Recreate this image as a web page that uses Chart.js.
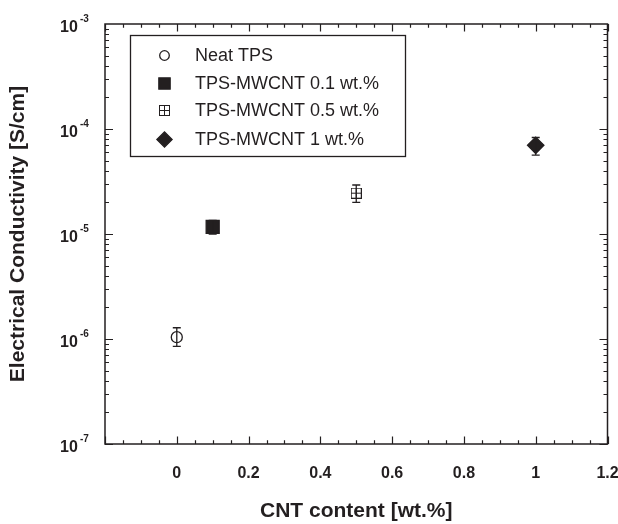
<!DOCTYPE html>
<html>
<head>
<meta charset="utf-8">
<script src="https://cdn.jsdelivr.net/npm/chart.js@4.4.1/dist/chart.umd.min.js"></script>
<style>
  html, body { margin: 0; padding: 0; background: #fff; }
</style>
</head>
<body>
<canvas id="myChart" width="618" height="524"></canvas>
<script>
// data
var seriesLabels = ['Neat TPS', 'TPS-MWCNT 0.1 wt.%', 'TPS-MWCNT 0.5 wt.%', 'TPS-MWCNT 1 wt.%'];
var cntContent = [0, 0.1, 0.5, 1];
var conductivity = [1.04e-6, 1.17e-5, 2.45e-5, 7.0e-5];
var errLow = [0.85e-6, 1.0e-5, 2.0e-5, 5.65e-5];
var errHigh = [1.28e-6, 1.35e-5, 2.93e-5, 8.3e-5];
var xTickLabels = ['0', '0.2', '0.4', '0.6', '0.8', '1', '1.2'];
var xTickValues = [0, 0.2, 0.4, 0.6, 0.8, 1, 1.2];
var yDecades = [-7, -6, -5, -4, -3];

var ink = '#231f20';

// square with a cross inside, used for the 0.5 wt.% series
function gridSquare(size) {
  var c = document.createElement('canvas');
  c.width = size; c.height = size;
  var g = c.getContext('2d');
  g.strokeStyle = ink;
  g.lineWidth = 1;
  var m = Math.floor(size / 2) + 0.5;
  g.strokeRect(0.5, 0.5, size - 1, size - 1);
  g.beginPath();
  g.moveTo(m, 0); g.lineTo(m, size);
  g.moveTo(0, m); g.lineTo(size, m);
  g.stroke();
  return c;
}

var styles = [
  { pointStyle: 'circle', radius: 5.5, fill: 'rgba(0,0,0,0)', legendRadius: 4.8 },
  { pointStyle: 'rect', radius: 9.2, fill: ink, legendRadius: 8 },
  { pointStyle: gridSquare(11), radius: 6, fill: ink, legendStyle: gridSquare(11) },
  { pointStyle: 'rectRot', radius: 8.2, fill: ink, legendRadius: 7.6 }
];

var datasets = seriesLabels.map(function (label, i) {
  return {
    label: label,
    data: [{ x: cntContent[i], y: conductivity[i] }],
    pointStyle: styles[i].pointStyle,
    pointRadius: styles[i].radius,
    pointHoverRadius: styles[i].radius,
    backgroundColor: styles[i].fill,
    borderColor: ink,
    pointBorderWidth: 1.3,
    showLine: false
  };
});

var errorBars = {
  id: 'errorBars',
  afterDatasetsDraw: function (chart) {
    var ctx = chart.ctx, xs = chart.scales.x, ys = chart.scales.y;
    ctx.save();
    ctx.strokeStyle = ink;
    ctx.lineWidth = 1.3;
    for (var i = 0; i < cntContent.length; i++) {
      var px = xs.getPixelForValue(cntContent[i]);
      var lo = ys.getPixelForValue(errLow[i]);
      var hi = ys.getPixelForValue(errHigh[i]);
      ctx.beginPath();
      ctx.moveTo(px, lo); ctx.lineTo(px, hi);
      ctx.moveTo(px - 4, lo); ctx.lineTo(px + 4, lo);
      ctx.moveTo(px - 4, hi); ctx.lineTo(px + 4, hi);
      ctx.stroke();
    }
    ctx.restore();
  }
};

// frame, inward ticks on all four sides, tick labels
var frameAndTicks = {
  id: 'frameAndTicks',
  afterDraw: function (chart) {
    var ctx = chart.ctx, a = chart.chartArea, xs = chart.scales.x, ys = chart.scales.y;
    ctx.save();
    ctx.strokeStyle = ink;
    ctx.lineWidth = 1.5;
    ctx.strokeRect(a.left, a.top, a.right - a.left, a.bottom - a.top);

    ctx.lineWidth = 1.2;
    ctx.beginPath();
    // x ticks every 0.05, major every 0.2
    for (var k = -4; k <= 28; k++) {
      var v = k * 0.05;
      var px = Math.round(xs.getPixelForValue(v)) + 0.5;
      var len = (k % 4 === 0) ? 7.5 : 3.8;
      ctx.moveTo(px, a.bottom); ctx.lineTo(px, a.bottom - len);
      ctx.moveTo(px, a.top); ctx.lineTo(px, a.top + len);
    }
    // y log ticks
    for (var d = -7; d < -3; d++) {
      for (var m = 1; m <= 9; m++) {
        var py = Math.round(ys.getPixelForValue(m * Math.pow(10, d))) + 0.5;
        var l = (m === 1) ? 8 : 4;
        ctx.moveTo(a.left, py); ctx.lineTo(a.left + l, py);
        ctx.moveTo(a.right, py); ctx.lineTo(a.right - l, py);
      }
    }
    ctx.stroke();

    ctx.fillStyle = ink;
    ctx.font = 'bold 16px "Liberation Sans", Arial, sans-serif';
    ctx.textAlign = 'center';
    ctx.textBaseline = 'alphabetic';
    xTickValues.forEach(function (v, i) {
      ctx.fillText(xTickLabels[i], xs.getPixelForValue(v), a.bottom + 34);
    });

    yDecades.forEach(function (e) {
      var py = ys.getPixelForValue(Math.pow(10, e));
      ctx.textAlign = 'left';
      ctx.font = 'bold 16px "Liberation Sans", Arial, sans-serif';
      ctx.fillText('10', 60, py + 8);
      ctx.font = 'bold 10px "Liberation Sans", Arial, sans-serif';
      ctx.fillText('-' + (-e), 80, py - 2);
    });
    ctx.restore();
  }
};

var boxLegend = {
  id: 'boxLegend',
  afterDraw: function (chart) {
    var ctx = chart.ctx;
    var rows = [55, 83, 110, 139];
    ctx.save();
    ctx.strokeStyle = ink;
    ctx.lineWidth = 1.3;
    ctx.strokeRect(130.5, 35.5, 275, 121);
    chart.data.datasets.forEach(function (ds, i) {
      ctx.fillStyle = styles[i].fill;
      ctx.strokeStyle = ink;
      ctx.lineWidth = 1.3;
      Chart.helpers.drawPoint(ctx, {
        pointStyle: styles[i].legendStyle || styles[i].pointStyle,
        radius: styles[i].legendRadius || 5,
        rotation: 0,
        borderWidth: 1.3
      }, 164.5, rows[i] + 0.5);
      ctx.fillStyle = ink;
      ctx.font = '18px "Liberation Sans", Arial, sans-serif';
      ctx.textAlign = 'left';
      ctx.textBaseline = 'middle';
      ctx.fillText(ds.label, 195, rows[i] + 1);
    });
    ctx.restore();
  }
};

var ctx = document.getElementById('myChart').getContext('2d');
var chart = new Chart(ctx, {
  type: 'scatter',
  data: { datasets: datasets },
  options: {
    responsive: false,
    animation: false,
    devicePixelRatio: 1,
    layout: { padding: { top: 24, right: 9, left: 0, bottom: 0 } },
    plugins: {
      legend: { display: false },
      tooltip: { enabled: false }
    },
    scales: {
      x: {
        type: 'linear',
        min: -0.2,
        max: 1.2,
        grid: { display: false },
        border: { display: false },
        ticks: { display: false },
        title: {
          display: true,
          text: 'CNT content [wt.%]',
          color: ink,
          font: { family: '"Liberation Sans", Arial, sans-serif', size: 21, weight: 'bold' },
          padding: { top: 0, bottom: 0 }
        },
        afterFit: function (s) { s.height = 80; }
      },
      y: {
        type: 'logarithmic',
        min: 1e-7,
        max: 1e-3,
        grid: { display: false },
        border: { display: false },
        ticks: { display: false },
        title: {
          display: true,
          text: 'Electrical Conductivity [S/cm]',
          color: ink,
          font: { family: '"Liberation Sans", Arial, sans-serif', size: 21, weight: 'bold' },
          padding: { top: 6, bottom: 0 }
        },
        afterFit: function (s) { s.width = 105; }
      }
    }
  },
  plugins: [errorBars, frameAndTicks, boxLegend]
});
</script>
</body>
</html>
